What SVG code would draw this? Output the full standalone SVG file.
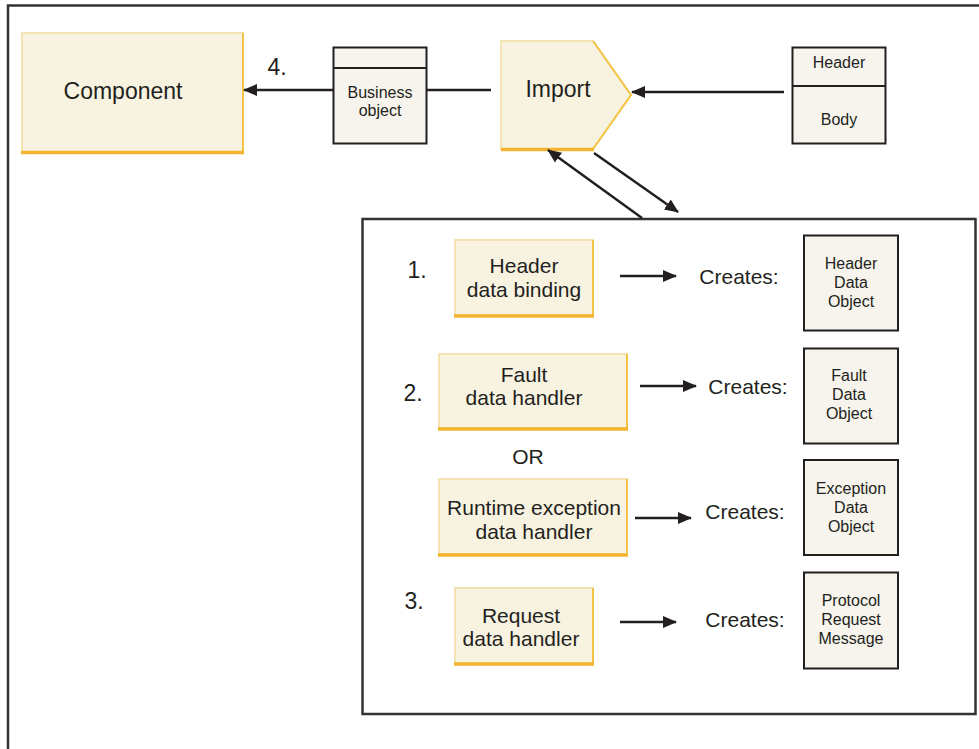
<svg xmlns="http://www.w3.org/2000/svg" width="979" height="749" viewBox="0 0 979 749">
<defs>
<marker id="ah" viewBox="0 0 14 12" refX="13" refY="6" markerWidth="14" markerHeight="12" markerUnits="userSpaceOnUse" orient="auto">
<path d="M0,0 L14,6 L0,12 Z" fill="#231f20"/>
</marker>
<style>
text{font-family:"Liberation Sans",Arial,sans-serif;fill:#231f20;text-anchor:middle;dominant-baseline:central}
.big{font-size:23px}
.mid{font-size:21px}
.num{font-size:23px}
.sm{font-size:16px}
.frame{fill:none;stroke:#333;stroke-width:2.5}
.yel{fill:#f8f3e1;stroke:#f3e3b2;stroke-width:2}
.edge{stroke:#f5c445;stroke-width:2;fill:none}
.bot{stroke:#f2b431;stroke-width:3.5;fill:none}
.dobj{fill:#f6f4ec;stroke:#231f20;stroke-width:2}
.conn{stroke:#231f20;stroke-width:2.5;fill:none}
.arr{stroke:#231f20;stroke-width:2.5;fill:none;marker-end:url(#ah)}
</style>
</defs>
<rect width="979" height="749" fill="#fff"/>
<g id="frame">
<path class="frame" d="M8,749 L8,5.5 L979,5.5"/>
<rect class="frame" x="362.5" y="219" width="613" height="495" stroke-width="2"/>
</g>
<g id="component">
<rect class="yel" x="22" y="33" width="221" height="119"/>
<path class="edge" d="M243,33 L243,152" stroke="#f5d27a"/>
<path class="bot" d="M21,152.5 L244,152.5"/>
<text class="big" x="123" y="91">Component</text>
</g>
<g id="step4"><text class="big" x="277" y="67">4.</text></g>
<g id="business-object">
<rect class="dobj" x="333.5" y="47.5" width="93" height="96"/>
<line x1="333.5" y1="68" x2="426.5" y2="68" stroke="#231f20" stroke-width="2"/>
<text class="sm" x="380" y="92">Business</text>
<text class="sm" x="380" y="110">object</text>
</g>
<g id="import">
<path class="yel" d="M501,149 L501,41 L593,41 L631,95 L593,149 Z"/>
<path class="edge" d="M593,41 L631,95 L593,149"/>
<path class="bot" d="M501,149.5 L594,149.5"/>
<text class="big" x="558" y="89">Import</text>
</g>
<g id="message">
<rect class="dobj" x="792.5" y="47.5" width="93" height="96"/>
<line x1="792.5" y1="86" x2="885.5" y2="86" stroke="#231f20" stroke-width="2"/>
<text class="sm" x="839" y="62">Header</text>
<text class="sm" x="839" y="119">Body</text>
</g>
<g id="connectors">
<line class="arr" x1="333" y1="90" x2="244" y2="90"/>
<line class="conn" x1="427" y1="90" x2="491" y2="90"/>
<line class="arr" x1="784" y1="92" x2="632" y2="92"/>
<line class="arr" x1="642" y1="218" x2="548" y2="150"/>
<line class="arr" x1="594" y1="153" x2="678" y2="212"/>
<line class="arr" x1="620" y1="276" x2="676" y2="276"/>
<line class="arr" x1="640" y1="386" x2="696" y2="386"/>
<line class="arr" x1="635" y1="518" x2="691" y2="518"/>
<line class="arr" x1="620" y1="622" x2="676" y2="622"/>
</g>
<g id="step1">
<text class="num" x="417" y="270">1.</text>
</g>
<g id="header-data-binding">
<rect class="yel" x="455" y="240" width="138" height="75"/>
<path class="edge" d="M593,240 L593,316"/>
<path class="bot" d="M454,316 L594,316"/>
<text class="mid" x="524" y="265">Header</text>
<text class="mid" x="524" y="289">data binding</text>
</g>
<g id="creates1"><text class="mid" x="739" y="276">Creates:</text></g>
<g id="header-data-object">
<rect class="dobj" x="804" y="235.5" width="94" height="95"/>
<text class="sm" x="851" y="263">Header</text>
<text class="sm" x="851" y="282">Data</text>
<text class="sm" x="851" y="301">Object</text>
</g>
<g id="step2"><text class="num" x="413" y="393">2.</text></g>
<g id="fault-data-handler">
<rect class="yel" x="439" y="354" width="188" height="74"/>
<path class="edge" d="M627,354 L627,429"/>
<path class="bot" d="M438,429 L628,429"/>
<text class="mid" x="524" y="374">Fault</text>
<text class="mid" x="524" y="397">data handler</text>
</g>
<g id="creates2"><text class="mid" x="748" y="386">Creates:</text></g>
<g id="fault-data-object">
<rect class="dobj" x="804" y="348.5" width="94" height="95"/>
<text class="sm" x="849" y="375">Fault</text>
<text class="sm" x="849" y="394">Data</text>
<text class="sm" x="849" y="413">Object</text>
</g>
<g id="or"><text class="mid" x="528" y="456">OR</text></g>
<g id="runtime-exception-data-handler">
<rect class="yel" x="439" y="479" width="188" height="75"/>
<path class="edge" d="M627,479 L627,555"/>
<path class="bot" d="M438,555 L628,555"/>
<text class="mid" x="534" y="507">Runtime exception</text>
<text class="mid" x="534" y="531">data handler</text>
</g>
<g id="creates3"><text class="mid" x="745" y="511">Creates:</text></g>
<g id="exception-data-object">
<rect class="dobj" x="804" y="460" width="94" height="95"/>
<text class="sm" x="851" y="488">Exception</text>
<text class="sm" x="851" y="507">Data</text>
<text class="sm" x="851" y="526">Object</text>
</g>
<g id="step3"><text class="num" x="414" y="601">3.</text></g>
<g id="request-data-handler">
<rect class="yel" x="455" y="588" width="138" height="75"/>
<path class="edge" d="M593,588 L593,664"/>
<path class="bot" d="M454,664 L594,664"/>
<text class="mid" x="521" y="615">Request</text>
<text class="mid" x="521" y="638">data handler</text>
</g>
<g id="creates4"><text class="mid" x="745" y="619">Creates:</text></g>
<g id="protocol-request-message">
<rect class="dobj" x="804" y="572.5" width="94" height="96"/>
<text class="sm" x="851" y="600">Protocol</text>
<text class="sm" x="851" y="619">Request</text>
<text class="sm" x="851" y="638">Message</text>
</g>
</svg>
